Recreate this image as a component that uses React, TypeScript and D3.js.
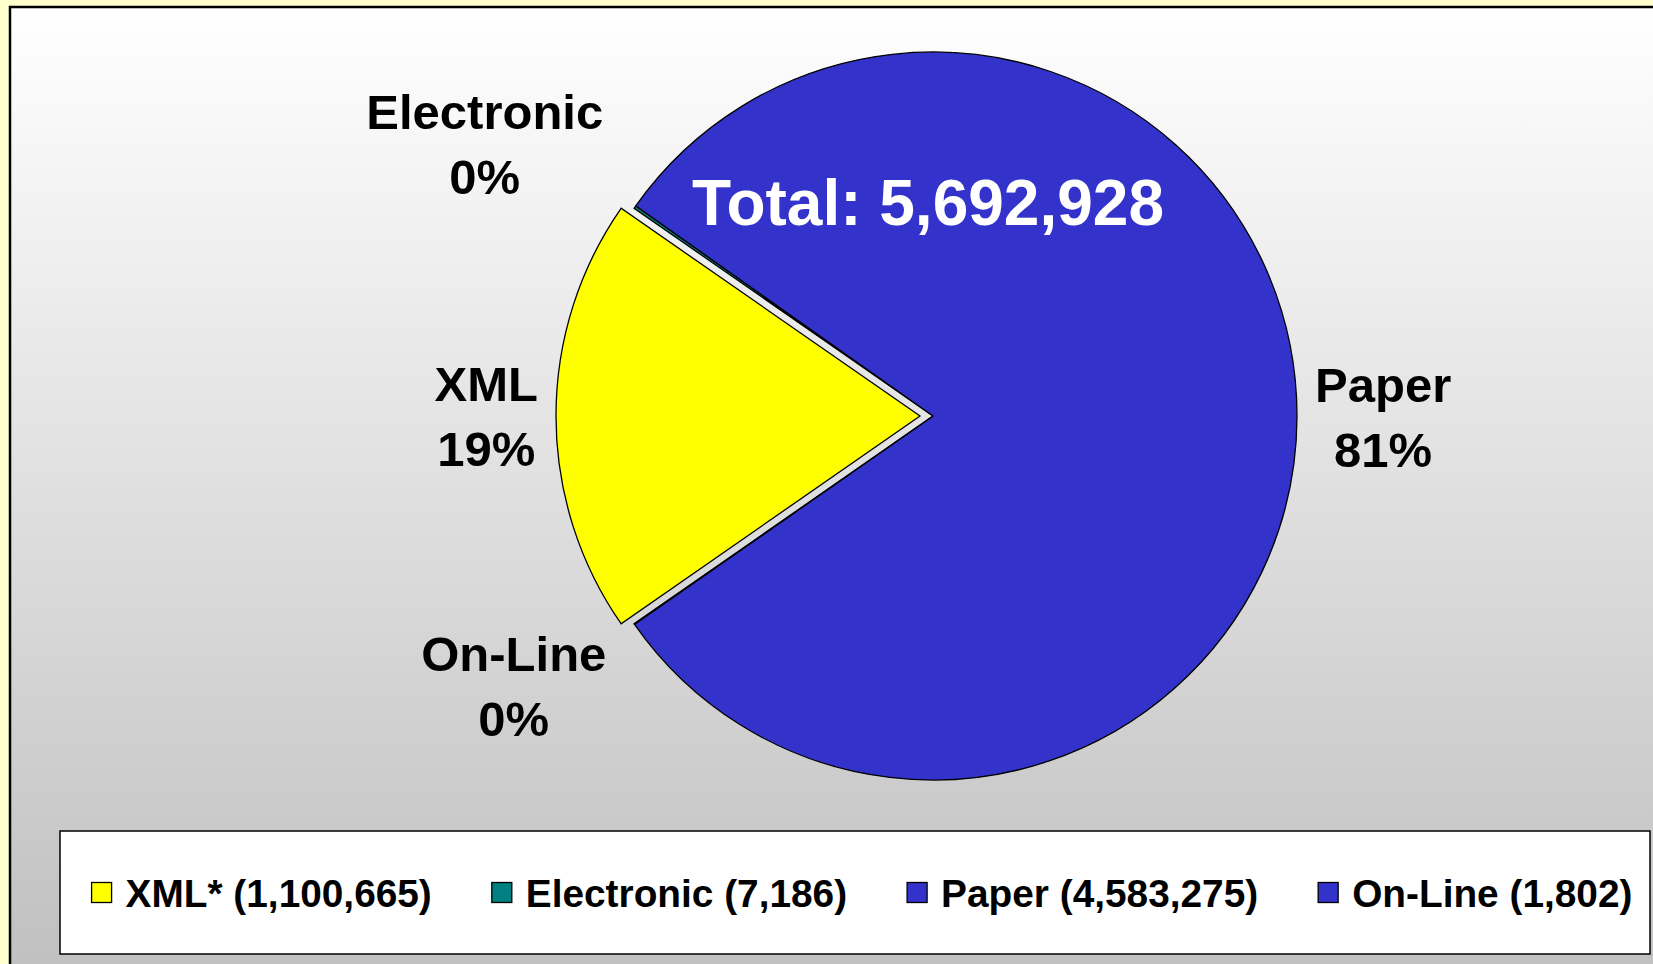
import * as d3 from "d3";
import { useEffect, useRef } from "react";

// data
const categories = ["XML*", "Electronic", "Paper", "On-Line"];
const sliceNames = ["XML", "Electronic", "Paper", "On-Line"];
const counts = [1100665, 7186, 4583275, 1802];
const colors = ["#ffff00", "#008080", "#3333cc", "#3333cc"];
const exploded = [true, false, false, false];

const width = 1653;
const height = 964;
const frame = { x: 10, y: 7 };
const center = { x: 933, y: 416 };
const radius = 364;
const explodeOffset = 13;
const labelGap = 18;
const legendBox = { x: 60, y: 831, w: 1590, h: 123 };
const fontFamily = "'Liberation Sans', Arial, Helvetica, sans-serif";

const fmt = d3.format(",");
const pct = d3.format(".0%");

const App = () => {
  const svgRef = useRef<SVGSVGElement | null>(null);

  useEffect(() => {
    const svg = d3.select(svgRef.current);
    svg.selectAll("*").remove();

    const total = d3.sum(counts);

    // background
    svg.append("rect").attr("width", width).attr("height", height).attr("fill", "#ffffcc");

    const defs = svg.append("defs");
    const grad = defs
      .append("linearGradient")
      .attr("id", "bg")
      .attr("x1", 0)
      .attr("y1", 0)
      .attr("x2", 0)
      .attr("y2", 1);
    grad.append("stop").attr("offset", "0%").attr("stop-color", "#ffffff");
    grad.append("stop").attr("offset", "100%").attr("stop-color", "#c0c0c0");

    svg
      .append("rect")
      .attr("x", frame.x)
      .attr("y", frame.y)
      .attr("width", width)
      .attr("height", height)
      .attr("fill", "url(#bg)")
      .attr("stroke", "#000")
      .attr("stroke-width", 2.5);

    // pie
    const start = 1.5 * Math.PI - (Math.PI * counts[0]) / total;
    const pie = d3
      .pie<number>()
      .sort(null)
      .value((d) => d)
      .startAngle(start)
      .endAngle(start + 2 * Math.PI);
    const arcs = pie(counts);
    const arc = d3.arc<d3.PieArcDatum<number>>().innerRadius(0).outerRadius(radius);

    const pieG = svg.append("g").attr("transform", `translate(${center.x},${center.y})`);
    pieG
      .selectAll("path")
      .data(arcs)
      .join("path")
      .attr("d", arc)
      .attr("fill", (_, i) => colors[i])
      .attr("stroke", "#000")
      .attr("stroke-width", 1.3)
      .attr("stroke-linejoin", "miter")
      .attr("transform", (d, i) => {
        if (!exploded[i]) return null;
        const a = (d.startAngle + d.endAngle) / 2;
        return `translate(${Math.sin(a) * explodeOffset},${-Math.cos(a) * explodeOffset})`;
      });

    // slice labels, pushed outside the rim like Excel does
    const clamp = (v: number) => Math.max(-1, Math.min(1, v / 0.5));
    arcs.forEach((d, i) => {
      const a = (d.startAngle + d.endAngle) / 2;
      const ux = Math.sin(a);
      const uy = -Math.cos(a);
      const R = radius + (exploded[i] ? explodeOffset : 0) + labelGap;
      const g = svg
        .append("g")
        .attr("font-family", fontFamily)
        .attr("font-weight", "bold")
        .attr("font-size", 49)
        .attr("text-anchor", "middle")
        .attr("fill", "#000");
      g.append("text").attr("x", 0).attr("y", 0).text(sliceNames[i]);
      g.append("text").attr("x", 0).attr("y", 65).text(pct(counts[i] / total));
      const bb = (g.node() as SVGGElement).getBBox();
      const cx =
        center.x + ux * R + (bb.width / 2) * clamp(ux) * (1 + 0.25 * Math.abs(uy));
      const cy = center.y + uy * R + (bb.height / 2) * clamp(uy) * 0.88;
      g.attr(
        "transform",
        `translate(${cx - (bb.x + bb.width / 2)},${cy - (bb.y + bb.height / 2)})`
      );
    });

    // total
    svg
      .append("text")
      .attr("x", center.x - 5)
      .attr("y", center.y - 191)
      .attr("text-anchor", "middle")
      .attr("font-family", fontFamily)
      .attr("font-weight", "bold")
      .attr("font-size", 64)
      .attr("fill", "#fff")
      .text(`Total: ${fmt(total)}`);

    // legend
    svg
      .append("rect")
      .attr("x", legendBox.x)
      .attr("y", legendBox.y)
      .attr("width", legendBox.w)
      .attr("height", legendBox.h)
      .attr("fill", "#fff")
      .attr("stroke", "#000")
      .attr("stroke-width", 1.5);

    const swatch = 20;
    const textOffset = 34;
    const itemGap = 60;
    const legendY = legendBox.y + legendBox.h / 2;
    const items = categories.map((c, i) => {
      const g = svg.append("g");
      g.append("rect")
        .attr("x", 0)
        .attr("y", -swatch / 2)
        .attr("width", swatch)
        .attr("height", swatch)
        .attr("fill", colors[i])
        .attr("stroke", "#000")
        .attr("stroke-width", 1.3);
      const t = g
        .append("text")
        .attr("x", textOffset)
        .attr("y", 14)
        .attr("font-family", fontFamily)
        .attr("font-weight", "bold")
        .attr("font-size", 38.8)
        .attr("fill", "#000")
        .text(`${c} (${fmt(counts[i])})`);
      const w = (t.node() as SVGTextElement).getComputedTextLength();
      return { g, w: textOffset + w };
    });
    const totalW = d3.sum(items, (d) => d.w) + itemGap * (items.length - 1);
    let x = legendBox.x + (legendBox.w - totalW) / 2 + 7;
    items.forEach((it) => {
      it.g.attr("transform", `translate(${x},${legendY})`);
      x += it.w + itemGap;
    });
  }, []);

  return (
    <svg
      ref={svgRef}
      width={width}
      height={height}
      style={{ position: "absolute", left: 0, top: 0, display: "block" }}
    />
  );
};

export default App;
